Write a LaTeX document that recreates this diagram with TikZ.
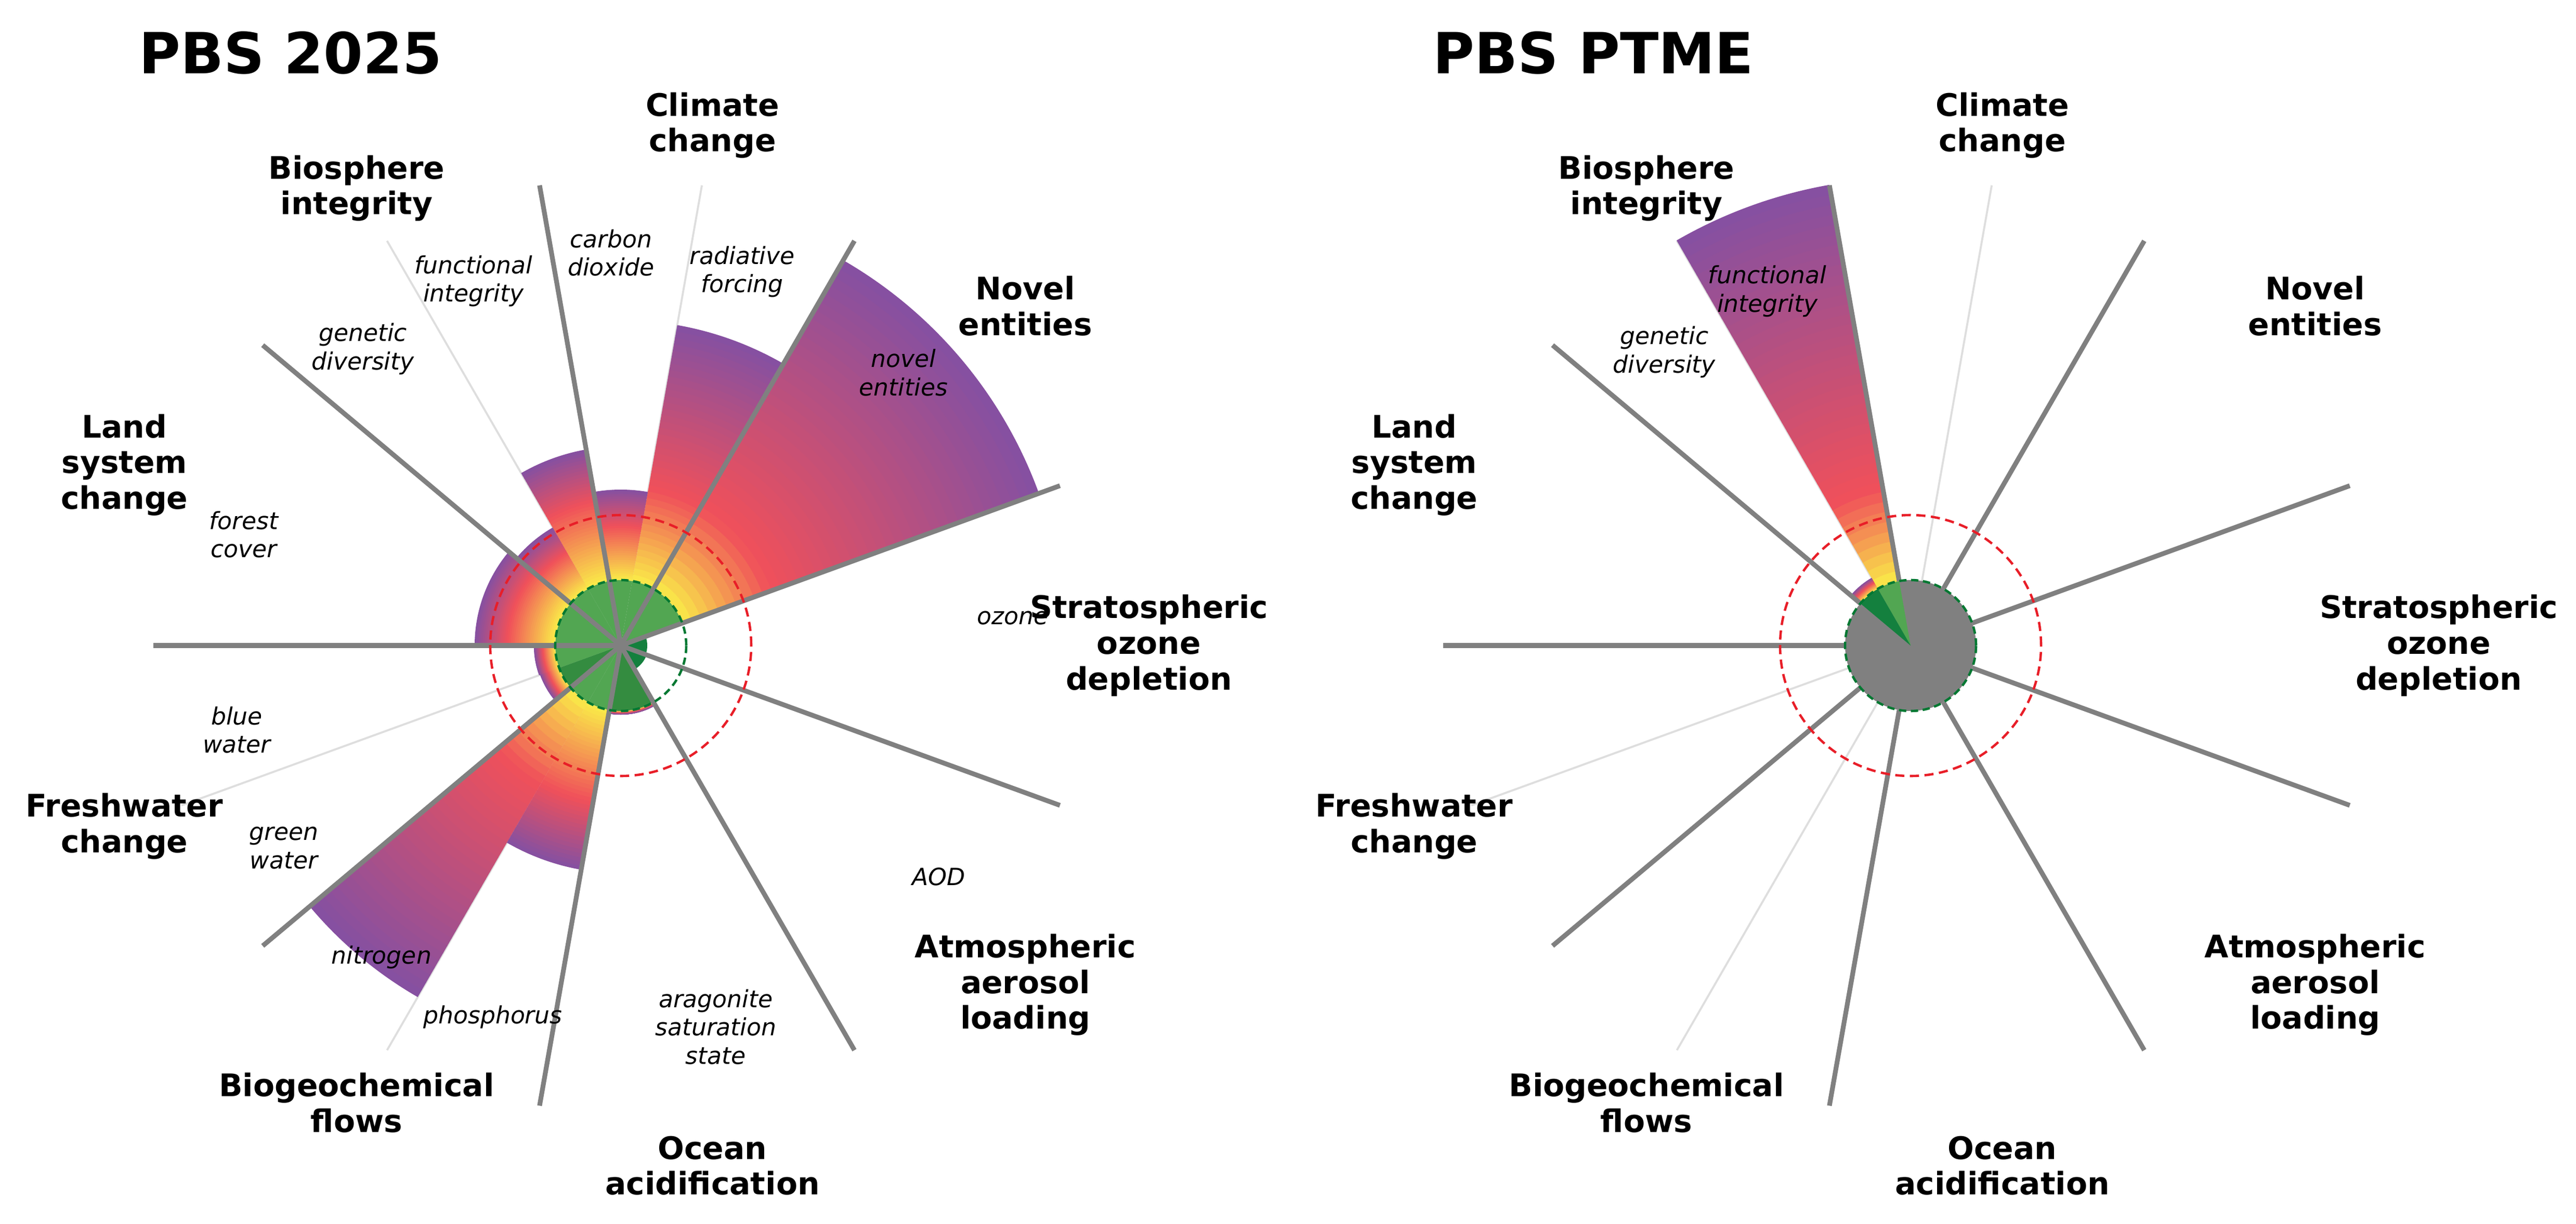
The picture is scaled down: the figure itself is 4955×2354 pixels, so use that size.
\documentclass[tikz,border=0pt]{standalone}
\usepackage{fontspec}
\setmainfont{DejaVu Sans}
\definecolor{pbyellow}{RGB}{250,236,72}
\definecolor{pbred}{RGB}{240,80,90}
\definecolor{pbpurple}{RGB}{132,80,162}
\definecolor{pbgreen}{RGB}{82,166,82}
\definecolor{pbgreenD}{RGB}{52,140,64}
\definecolor{pbdark}{RGB}{20,128,62}
\definecolor{pbgrey}{RGB}{128,128,128}
\definecolor{pbthin}{RGB}{222,222,222}
\definecolor{pbdash}{RGB}{232,30,40}
\definecolor{pbgdash}{RGB}{0,120,50}
\tikzset{
  spoke/.style={pbgrey, line width=2.6pt},
  subspoke/.style={pbthin, line width=1.1pt},
  bound/.style={pbgdash, dashed, line width=1.3pt, dash pattern=on 4pt off 2.5pt},
  zone/.style={pbdash, dashed, line width=1.3pt, dash pattern=on 5pt off 3pt},
  group/.style={font=\fontsize{17}{19.5}\selectfont\bfseries, align=center},
  sub/.style={font=\fontsize{13}{15.5}\selectfont\itshape, align=center},
  title/.style={font=\fontsize{31}{36}\selectfont\bfseries}
}
% #1 start angle, #2 end angle, #3 outer radius, #4 inner colour
\newcommand\pbwedge[4]{%
  \fill[#4] (0,0) -- (#1:126) arc[start angle=#1,end angle=#2,radius=126] -- cycle;
  \pgfmathsetmacro\rr{126+min(0.6*(#3-126),180)}
  \foreach \i in {1,...,40}{%
    \pgfmathsetmacro\ra{126+(#3-126)/40*(\i-1)}
    \pgfmathsetmacro\rb{min(126+(#3-126)/40*\i+1.5,#3)}
    \pgfmathsetmacro\rmid{(\ra+\rb)/2}
    \pgfmathparse{\rmid<\rr?1:0}
    \ifnum\pgfmathresult=1
      \pgfmathsetmacro\p{(\rmid-126)/(\rr-126)*100}
      \colorlet{strip}{pbred!\p!pbyellow}
    \else
      \pgfmathsetmacro\p{(\rmid-\rr)/(#3-\rr)*100}
      \colorlet{strip}{pbpurple!\p!pbred}
    \fi
    \fill[strip] (#1:\ra) arc[start angle=#1,end angle=#2,radius=\ra]
      -- (#2:\rb) arc[start angle=#2,end angle=#1,radius=\rb] -- cycle;
  }%
}
\newcommand\pbsmall[3]{%
  \fill[pbdark] (0,0) -- (#1:#3) arc[start angle=#1,end angle=#2,radius=#3] -- cycle;
}
\begin{document}
\begin{tikzpicture}[x=0.01cm,y=0.01cm]
\useasboundingbox (-1194,-1112) rectangle (3761,1242);

% left chart
\node[title] (t1) at (-635,1140) {PBS 2025};
\foreach \a in {80,120,240,200} \draw[subspoke] (0,0) -- (\a:899);
\pbwedge{20}{60}{856}{pbgreen}
\pbwedge{60}{80}{626}{pbgreen}
\pbwedge{80}{100}{300}{pbgreen}
\pbwedge{100}{120}{383}{pbgreen}
\pbwedge{120}{140}{262}{pbgreen}
\pbwedge{140}{180}{281}{pbgreen}
\pbwedge{180}{200}{167}{pbgreen}
\pbwedge{200}{220}{165}{pbgreenD}
\pbwedge{220}{240}{781}{pbgreen}
\pbwedge{240}{260}{438}{pbgreen}
\pbwedge{260}{300}{133}{pbgreenD}
\pbsmall{300}{340}{53}
\pbsmall{340}{380}{51}
\foreach \a in {20,60,...,340} \draw[spoke] (0,0) -- (\a:899);
\draw[bound] (0,0) circle[radius=126];
\draw[zone] (0,0) circle[radius=251];

\node[group] (cc1) at (80:1016) {Climate\\change};
\node[group] (bi1) at (120:1016) {Biosphere\\integrity};
\node[group] (ne1) at (40:1016) {Novel\\entities};
\node[group] (ls1) at (160:1016) {Land\\system\\change};
\node[group] (so1) at (0:1016) {Stratospheric\\ozone\\depletion};
\node[group] (fw1) at (200:1016) {Freshwater\\change};
\node[group] (aa1) at (320:1016) {Atmospheric\\aerosol\\loading};
\node[group] (bg1) at (240:1016) {Biogeochemical\\flows};
\node[group] (oa1) at (280:1016) {Ocean\\acidification};

\node[sub] (co2) at (91.4:756) {carbon\\dioxide};
\node[sub] (rf) at (72:756) {radiative\\forcing};
\node[sub] (fi1) at (112:756) {functional\\integrity};
\node[sub] (gd1) at (131:756) {genetic\\diversity};
\node[sub] (fc) at (163.6:756) {forest\\cover};
\node[sub] (nov) at (44:756) {novel\\entities};
\node[sub] (oz) at (4:756) {ozone};
\node[sub] (aod) at (-36:756) {AOD};
\node[sub] (ara) at (-76:756) {aragonite\\saturation\\state};
\node[sub] (pho) at (-109:756) {phosphorus};
\node[sub] (nit) at (-127.5:756) {nitrogen};
\node[sub] (gw) at (-149:756) {green\\water};
\node[sub] (bw) at (-167.6:756) {blue\\water};

% right chart
\begin{scope}[shift={(2481,0)}]
\node[title] (t2) at (-610,1140) {PBS PTME};
\foreach \a in {80,120,240,200} \draw[subspoke] (0,0) -- (\a:899);
\fill[pbgrey] (0,0) circle[radius=126];
\pbwedge{100}{120}{900}{pbgreen}
\pbwedge{120}{140}{150}{pbdark}
\foreach \a in {20,60,...,340} \draw[spoke] (\a:126) -- (\a:899);
\draw[bound] (0,0) circle[radius=126];
\draw[zone] (0,0) circle[radius=251];

\node[group] (cc2) at (80:1016) {Climate\\change};
\node[group] (bi2) at (120:1016) {Biosphere\\integrity};
\node[group] (ne2) at (40:1016) {Novel\\entities};
\node[group] (ls2) at (160:1016) {Land\\system\\change};
\node[group] (so2) at (0:1016) {Stratospheric\\ozone\\depletion};
\node[group] (fw2) at (200:1016) {Freshwater\\change};
\node[group] (aa2) at (320:1016) {Atmospheric\\aerosol\\loading};
\node[group] (bg2) at (240:1016) {Biogeochemical\\flows};
\node[group] (oa2) at (280:1016) {Ocean\\acidification};

\node[sub] (fi2) at (112:735) {functional\\integrity};
\node[sub] (gd2) at (130:737) {genetic\\diversity};
\end{scope}
\end{tikzpicture}
\end{document}
